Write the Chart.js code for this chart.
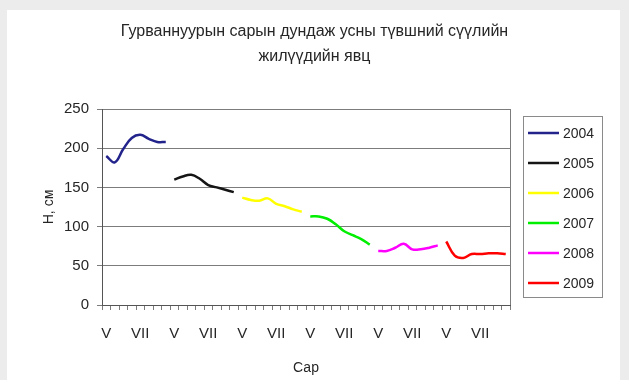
<!DOCTYPE html>
<html>
<head>
<meta charset="utf-8">
<script src="https://cdn.jsdelivr.net/npm/chart.js@4/dist/chart.umd.min.js"></script>
<style>
  html, body { margin: 0; padding: 0; background: #ececec; }
  #frame { position: absolute; left: 7px; top: 10px; width: 613px; height: 370px; background: #ffffff; }
  #chart { position: absolute; left: 0; top: 0; }
</style>
</head>
<body>
<div id="frame"></div>
<canvas id="chart" width="629" height="380"></canvas>
<script>
// Years shown, and the half-month steps (May–August) within each year
const years = ['2004', '2005', '2006', '2007', '2008', '2009'];
const months = ['V', 'V', 'VI', 'VI', 'VII', 'VII', 'VIII', 'VIII'];

// Mean water level, H (cm), per half-month step
const level2004 = [190, 182, 199, 213, 217, 212, 208, 208];
const level2005 = [160, 164, 166, 161, 153, 150, 147, 144];
const level2006 = [137, 134, 133, 136, 129, 126, 122, 119];
const level2007 = [113, 113, 110, 103, 94, 89, 84, 77];
const level2008 = [69, 69, 73, 78, 71, 71, 73, 76];
const level2009 = [81, 63, 60, 65, 65, 66, 66, 65];

const yTicks = [0, 50, 100, 150, 200, 250];

const seriesColors = ['#23238c', '#151515', '#ffff00', '#00ee00', '#ff00ff', '#ff0000'];
const seriesValues = [level2004, level2005, level2006, level2007, level2008, level2009];

// One category per half-month, years laid end to end
const categories = [];
years.forEach(() => months.forEach(m => categories.push(m)));

// Each year occupies its own block of the shared axis
const datasets = years.map((yr, i) => {
  const data = new Array(categories.length).fill(null);
  seriesValues[i].forEach((v, j) => { data[i * months.length + j] = v; });
  return {
    label: yr,
    data,
    borderColor: seriesColors[i],
    backgroundColor: seriesColors[i],
    borderWidth: 2.5,
    pointRadius: 0,
    tension: 0.4,
    spanGaps: false,
    fill: false
  };
});

const textColor = '#262626';
const gridColor = '#7c7c7c';
const fontFamily = '"Liberation Sans", Arial, sans-serif';

// Right border of the plot and the boxed legend
const framePlugin = {
  id: 'frameAndLegend',
  beforeDatasetsDraw(chart) {
    const { ctx, chartArea } = chart;
    ctx.save();
    ctx.strokeStyle = gridColor;
    ctx.lineWidth = 1;
    ctx.beginPath();
    ctx.moveTo(Math.round(chartArea.right) + 0.5, chartArea.top);
    ctx.lineTo(Math.round(chartArea.right) + 0.5, chartArea.bottom);
    ctx.stroke();
    ctx.restore();
  },
  afterDraw(chart) {
    const { ctx, chartArea } = chart;
    const left = chartArea.right + 13, top = 116, width = 79, height = 181;
    ctx.save();
    ctx.strokeStyle = '#8a8a8a';
    ctx.lineWidth = 1;
    ctx.strokeRect(left + 0.5, top + 0.5, width, height);
    ctx.font = '14px ' + fontFamily;
    ctx.textBaseline = 'middle';
    ctx.textAlign = 'left';
    chart.data.datasets.forEach((ds, i) => {
      const y = top + 17 + i * 30;
      ctx.strokeStyle = ds.borderColor;
      ctx.lineWidth = 2.5;
      ctx.beginPath();
      ctx.moveTo(left + 5, y);
      ctx.lineTo(left + 36, y);
      ctx.stroke();
      ctx.fillStyle = textColor;
      ctx.fillText(ds.label, left + 40, y + 1);
    });
    ctx.restore();
  }
};

new Chart(document.getElementById('chart'), {
  type: 'line',
  data: { labels: categories, datasets },
  plugins: [framePlugin],
  options: {
    responsive: false,
    animation: false,
    devicePixelRatio: 1,
    layout: { padding: 0 },
    plugins: {
      legend: { display: false },
      tooltip: { enabled: false },
      title: {
        display: true,
        text: ['Гурваннуурын сарын дундаж усны түвшний сүүлийн', 'жилүүдийн явц'],
        color: textColor,
        font: { family: fontFamily, size: 16, weight: 'normal', lineHeight: '25px' },
        padding: { top: 19, bottom: 40 }
      }
    },
    scales: {
      x: {
        type: 'category',
        offset: true,
        grid: { display: true, drawOnChartArea: false, drawTicks: true, tickLength: 5, offset: true, color: gridColor },
        border: { display: true, color: '#555555', width: 1 },
        ticks: {
          autoSkip: false,
          maxRotation: 0,
          minRotation: 0,
          padding: 15,
          color: textColor,
          font: { family: fontFamily, size: 15 },
          callback: (val, idx) => (idx % 4 === 0 ? categories[idx] : '')
        },
        title: {
          display: true,
          text: 'Сар',
          color: textColor,
          font: { family: fontFamily, size: 14 },
          padding: { top: 0, bottom: 3.6 }
        },
        afterFit: s => { s.height = 75; }
      },
      y: {
        min: 0,
        max: 250,
        afterBuildTicks: s => { s.ticks = yTicks.map(v => ({ value: v })); },
        grid: { color: gridColor, lineWidth: 1, tickLength: 5 },
        border: { display: true, color: '#555555', width: 1 },
        ticks: { padding: 8, color: textColor, font: { family: fontFamily, size: 15 } },
        title: {
          display: true,
          text: 'Н, см',
          color: textColor,
          font: { family: fontFamily, size: 14 },
          padding: { top: 41, bottom: 0 }
        },
        afterFit: s => { s.width = 102; }
      },
      legendSpace: {
        type: 'linear',
        position: 'right',
        display: true,
        grid: { display: false },
        border: { display: false },
        ticks: { display: false },
        afterFit: s => { s.width = 119; }
      }
    }
  }
});
</script>
</body>
</html>
